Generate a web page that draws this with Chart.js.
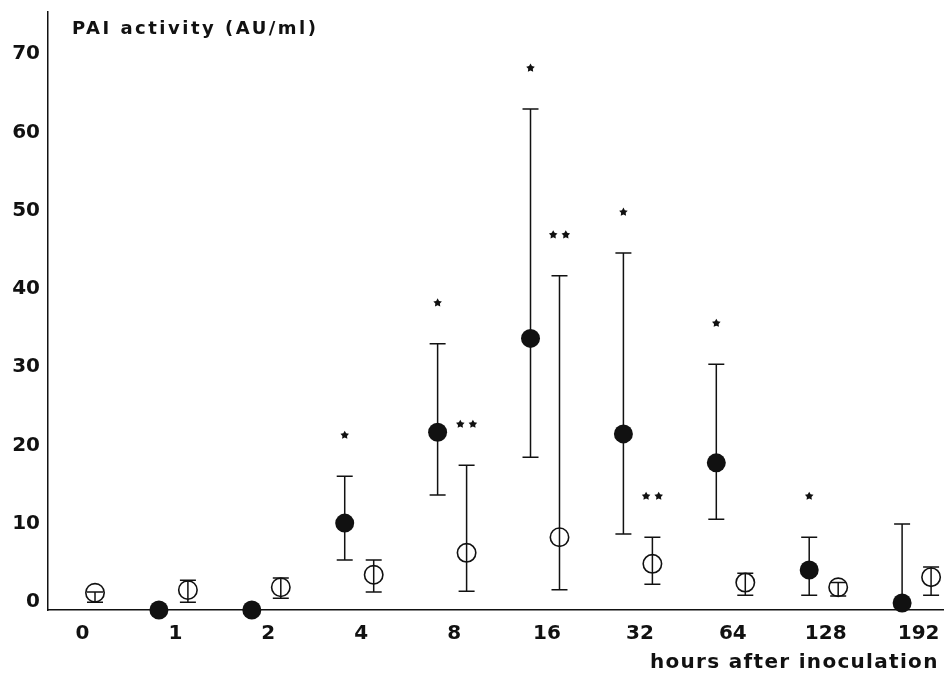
<!DOCTYPE html>
<html>
<head>
<meta charset="utf-8">
<script src="https://cdn.jsdelivr.net/npm/chart.js@4/dist/chart.umd.min.js"></script>
<style>
  html, body { margin: 0; padding: 0; background: #fff; }
  #wrap { width: 944px; height: 679px; }
</style>
</head>
<body>
<div id="wrap"><canvas id="c" width="944" height="679"></canvas></div>
<script>
// Hours after inoculation (category axis)
const categories = ['0', '1', '2', '4', '8', '16', '32', '64', '128', '192'];

// Filled circles: mean PAI activity with error-bar limits (AU/ml)
const filledMean  = [null, 0,    0,    11.1, 22.7, 34.7, 22.5, 18.8, 5.1, 0.9];
const filledUpper = [null, null, null, 17.1, 34.0, 64.0, 45.6, 31.4, 9.3, 11.0];
const filledLower = [null, null, null, 6.4,  14.7, 19.5, 9.7,  11.6, 1.9, null];

// Open circles: mean PAI activity with error-bar limits (AU/ml)
const openMean  = [2.2, 2.55, 2.9, 4.5, 7.3,  9.3,  5.9, 3.5, 2.9, 4.2];
const openUpper = [2.3, 3.8,  4.1, 6.4, 18.5, 42.7, 9.3, 4.7, 3.5, 5.5];
const openLower = [1.0, 1.0,  1.5, 2.3, 2.4,  2.6,  3.3, 1.9, 1.8, 1.9];

// Significance marks (number of asterisks) above each point
const filledStars = [0, 0, 0, 1, 1, 1, 1, 1, 1, 0];
const openStars   = [0, 0, 0, 0, 2, 2, 2, 0, 0, 0];

// Y axis tick values
const yTicks = [0, 10, 20, 30, 40, 50, 60, 70];

const INK = '#111';
const SHIFT = 0.156;          // side-by-side offset of the two groups within a category
const FONT = '"DejaVu Sans", "Liberation Sans", sans-serif';

function buildPoints(mean, lower, upper, stars, shift) {
  const pts = [];
  mean.forEach((m, i) => {
    if (m === null) return;
    pts.push({ x: i + shift, y: m, lo: lower[i], hi: upper[i], stars: stars[i] });
  });
  return pts;
}

function drawStar(ctx, cx, cy, rOut, rIn) {
  ctx.beginPath();
  for (let k = 0; k < 10; k++) {
    const r = k % 2 === 0 ? rOut : rIn;
    const a = -Math.PI / 2 + k * Math.PI / 5;
    const px = cx + r * Math.cos(a), py = cy + r * Math.sin(a);
    if (k === 0) ctx.moveTo(px, py); else ctx.lineTo(px, py);
  }
  ctx.closePath();
  ctx.fill();
}

// Error bars (under the markers) and asterisks (above the bars)
const errorBars = {
  id: 'errorBars',
  beforeDatasetsDraw(chart) {
    const ctx = chart.ctx, ys = chart.scales.y;
    ctx.save();
    ctx.strokeStyle = INK;
    ctx.lineWidth = 1.5;
    chart.data.datasets.forEach((ds, d) => {
      const meta = chart.getDatasetMeta(d);
      ds.data.forEach((p, j) => {
        const el = meta.data[j];
        if (!el) return;
        const x = el.x;
        const yTop = p.hi !== null ? ys.getPixelForValue(p.hi) : null;
        const yBot = p.lo !== null ? ys.getPixelForValue(p.lo) : null;
        const yMid = el.y;
        if (yTop === null && yBot === null) return;
        ctx.beginPath();
        ctx.moveTo(x, yBot !== null ? yBot : yMid);
        ctx.lineTo(x, yTop !== null ? yTop : yMid);
        if (yTop !== null) { ctx.moveTo(x - 8, yTop); ctx.lineTo(x + 8, yTop); }
        if (yBot !== null) { ctx.moveTo(x - 8, yBot); ctx.lineTo(x + 8, yBot); }
        ctx.stroke();
      });
    });
    ctx.restore();
  },
  afterDatasetsDraw(chart) {
    const ctx = chart.ctx, ys = chart.scales.y;
    ctx.save();
    ctx.fillStyle = INK;
    chart.data.datasets.forEach((ds, d) => {
      const meta = chart.getDatasetMeta(d);
      ds.data.forEach((p, j) => {
        const el = meta.data[j];
        if (!el || !p.stars) return;
        const yTop = ys.getPixelForValue(p.hi) - 41;
        if (p.stars === 1) {
          drawStar(ctx, el.x, yTop, 4.5, 2.4);
        } else {
          drawStar(ctx, el.x - 6.3, yTop, 4.5, 2.4);
          drawStar(ctx, el.x + 6.3, yTop, 4.5, 2.4);
        }
      });
    });
    ctx.restore();
  }
};

// Axis titles
const axisTitles = {
  id: 'axisTitles',
  afterDraw(chart) {
    const ctx = chart.ctx;
    ctx.save();
    ctx.fillStyle = INK;
    ctx.textBaseline = 'middle';
    ctx.textAlign = 'left';
    ctx.font = 'bold 18px ' + FONT;
    ctx.letterSpacing = '2.5px';
    ctx.fillText('PAI activity (AU/ml)', 72, 29);
    ctx.font = 'bold 20px ' + FONT;
    ctx.letterSpacing = '1.3px';
    ctx.fillText('hours after inoculation', 650, 663);
    ctx.restore();
  }
};

new Chart(document.getElementById('c'), {
  type: 'scatter',
  data: {
    datasets: [
      {
        label: 'filled',
        data: buildPoints(filledMean, filledLower, filledUpper, filledStars, -SHIFT),
        pointRadius: 9.5,
        pointHoverRadius: 9.5,
        pointBackgroundColor: INK,
        pointBorderColor: INK,
        pointBorderWidth: 0,
        showLine: false,
        clip: false
      },
      {
        label: 'open',
        data: buildPoints(openMean, openLower, openUpper, openStars, SHIFT),
        pointRadius: 9.2,
        pointHoverRadius: 9.2,
        pointBackgroundColor: 'rgba(0,0,0,0)',
        pointBorderColor: INK,
        pointBorderWidth: 1.6,
        showLine: false,
        clip: false
      }
    ]
  },
  options: {
    responsive: false,
    animation: false,
    devicePixelRatio: 1,
    layout: { autoPadding: false, padding: { top: 12, right: 0, bottom: 0, left: 0 } },
    plugins: {
      legend: { display: false },
      tooltip: { enabled: false }
    },
    scales: {
      x: {
        type: 'linear',
        min: -0.35,
        max: 9.295,
        grid: { display: false, drawTicks: false },
        border: { display: true, color: INK, width: 1.5 },
        afterBuildTicks(scale) {
          scale.ticks = categories.map((c, i) => ({ value: i }));
        },
        ticks: {
          autoSkip: false,
          maxRotation: 0,
          includeBounds: false,
          padding: 12,
          labelOffset: 2,
          color: INK,
          font: { family: FONT, size: 20, weight: 'bold' },
          callback: (v) => categories[v]
        },
        afterFit(scale) {
          scale.height = 69;
          scale.paddingLeft = 0;
          scale.paddingRight = 0;
        }
      },
      y: {
        type: 'linear',
        min: 0,
        max: 76.4,
        grid: { display: false, drawTicks: false },
        border: { display: true, color: INK, width: 1.5 },
        afterBuildTicks(scale) {
          scale.ticks = yTicks.map(v => ({ value: v }));
        },
        ticks: {
          includeBounds: false,
          padding: 8,
          labelOffset: -8,
          color: INK,
          font: { family: FONT, size: 20, weight: 'bold' }
        },
        afterFit(scale) {
          scale.width = 48;
          scale.paddingTop = 0;
          scale.paddingBottom = 0;
        }
      }
    }
  },
  plugins: [errorBars, axisTitles]
});
</script>
</body>
</html>
